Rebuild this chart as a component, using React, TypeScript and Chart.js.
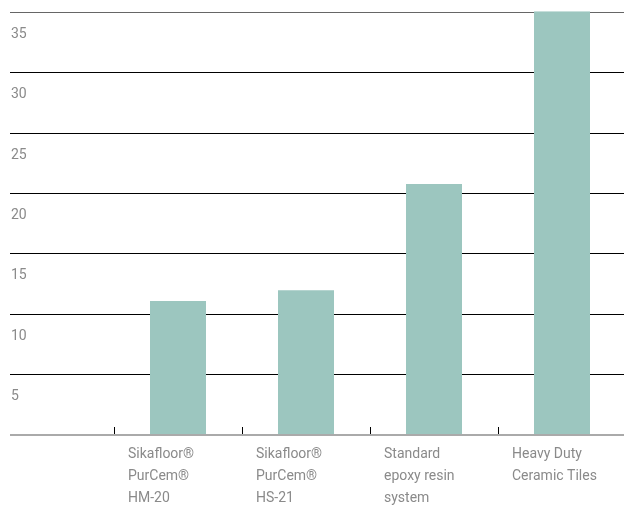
import { useEffect, useRef } from 'react';
import { Chart, registerables } from 'chart.js';

Chart.register(...registerables);

const categories: string[][] = [
  ['Sikafloor®', 'PurCem®', 'HM-20'],
  ['Sikafloor®', 'PurCem®', 'HS-21'],
  ['Standard', 'epoxy resin', 'system'],
  ['Heavy Duty', 'Ceramic Tiles'],
];
const values: number[] = [11.1, 12.0, 20.8, 35.1];
const yTickValues: number[] = [0, 5, 10, 15, 20, 25, 30, 35];
const yMax = 35.1;

export default function App() {
  const ref = useRef<HTMLCanvasElement | null>(null);

  useEffect(() => {
    if (!ref.current) return;
    const chart = new Chart(ref.current, {
      type: 'bar',
      data: {
        labels: categories,
        datasets: [
          {
            data: values,
            backgroundColor: '#9cc6bf',
            borderWidth: 0,
            barPercentage: 0.4375,
            categoryPercentage: 1,
          },
        ],
      },
      options: {
        animation: false,
        responsive: false,
        devicePixelRatio: 1,
        layout: { padding: { left: 11, top: 11.3, right: 0, bottom: 0 } },
        plugins: { legend: { display: false }, tooltip: { enabled: false } },
        scales: {
          x: {
            border: { display: false },
            grid: {
              offset: true,
              drawOnChartArea: false,
              drawTicks: true,
              tickLength: -8,
              color: '#000',
              lineWidth: 1,
            },
            ticks: {
              autoSkip: false,
              maxRotation: 0,
              minRotation: 0,
              align: 'start',
              labelOffset: -50,
              padding: 16,
              color: '#8a8a8a',
              font: { family: 'Roboto', size: 14, lineHeight: 22 / 14 },
            },
            afterFit: (scale: any) => {
              scale.height = 83;
              scale.paddingLeft = 0;
              scale.paddingRight = 0;
            },
          },
          y: {
            min: 0,
            max: yMax,
            border: { display: false },
            afterBuildTicks: (scale: any) => {
              scale.ticks = yTickValues.map((v) => ({ value: v }));
            },
            afterFit: (scale: any) => {
              scale.width = 103;
              scale.paddingTop = 0;
              scale.paddingBottom = 0;
            },
            grid: {
              drawTicks: true,
              tickLength: 104,
              color: (ctx: any) =>
                ctx.tick && ctx.tick.value === 0
                  ? '#aaaaaa'
                  : ctx.tick && ctx.tick.value === 35
                  ? '#666666'
                  : '#000000',
              lineWidth: (ctx: any) => (ctx.tick && ctx.tick.value === 0 ? 2 : 1),
            },
            ticks: {
              crossAlign: 'far',
              labelOffset: 22,
              color: '#8a8a8a',
              font: { family: 'Roboto', size: 14 },
              callback: (v: any) => (v === 0 ? '' : String(v)),
            },
          },
        },
      },
    });
    return () => chart.destroy();
  }, []);

  return (
    <div
      style={{
        position: 'fixed',
        left: 0,
        top: 0,
        width: 624,
        height: 518,
        overflow: 'hidden',
        background: '#fff',
      }}
    >
      <canvas ref={ref} width={626} height={518} style={{ display: 'block' }} />
    </div>
  );
}
